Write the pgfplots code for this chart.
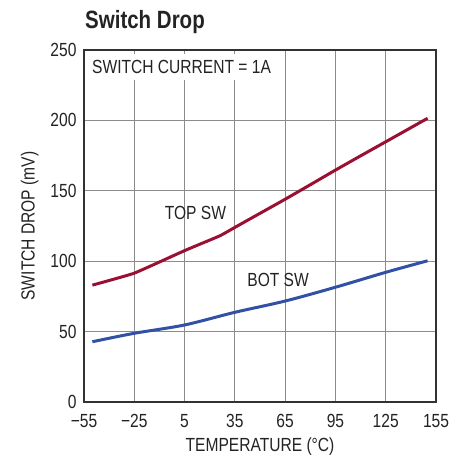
\documentclass[border=0pt]{standalone}
\usepackage{fontspec}
\setmainfont{Liberation Sans}[FakeStretch=0.82]
\usepackage{pgfplots}
\pgfplotsset{compat=1.18}
\definecolor{topred}{RGB}{155,15,50}
\definecolor{botblue}{RGB}{50,80,165}
\definecolor{gridgray}{RGB}{140,140,140}
\definecolor{axgray}{RGB}{50,50,50}
\definecolor{txt}{RGB}{35,35,35}
\begin{document}
\begin{tikzpicture}[x=1pt,y=1pt]
\useasboundingbox (0,0) rectangle (466,457);
\node[anchor=base west, font=\fontsize{25}{28}\selectfont\bfseries, inner sep=0, text=txt] at (85,428.7) {Switch Drop};
\begin{axis}[at={(84pt,55pt)}, anchor=south west, width=352pt, height=352pt, scale only axis,
  xmin=-55, xmax=155, ymin=0, ymax=250,
  xtick={-55,-25,5,35,65,95,125,155},
  xticklabels={−55,−25,5,35,65,95,125,155},
  ytick={0,50,100,150,200,250},
  grid=major, major grid style={gridgray, line width=1.2pt},
  axis line style={axgray, line width=1.5pt},
  major tick length=0pt,
  tick label style={font=\fontsize{19}{22}\selectfont, text=txt},
  /pgf/number format/assume math mode=true,
  yticklabel style={xshift=-4pt},
  xticklabel style={yshift=-9pt},
  xlabel={TEMPERATURE (°C)}, ylabel={SWITCH DROP (mV)},
  label style={font=\fontsize{19}{22}\selectfont, text=txt},
  xlabel style={yshift=-3pt},
  ylabel style={yshift=5pt},
  clip=false,
]
\addplot[topred, line width=3pt, smooth, tension=0.2] coordinates {
 (-50,83) (-25,91.5) (5,107.5) (26,118) (35,124) (50,134) (65,144) (80,154.3) (95,164.7) (110,174.8) (125,184.8) (150,201.5)
};
\addplot[botblue, line width=3pt, smooth] coordinates {
 (-50,42.8) (-25,48.8) (5,54.7) (35,63.7) (65,71.7) (95,81.5) (125,92.1) (150,100.3)
};
\node[anchor=west, fill=white, inner xsep=3pt, inner ysep=6pt, font=\fontsize{19}{22}\selectfont, text=txt] at (axis cs:-52,238) {SWITCH CURRENT = 1A};
\node[font=\fontsize{19}{22}\selectfont, text=txt] at (axis cs:11.5,134) {TOP SW};
\node[font=\fontsize{19}{22}\selectfont, text=txt] at (axis cs:60.8,86.4) {BOT SW};
\end{axis}
\end{tikzpicture}
\end{document}
